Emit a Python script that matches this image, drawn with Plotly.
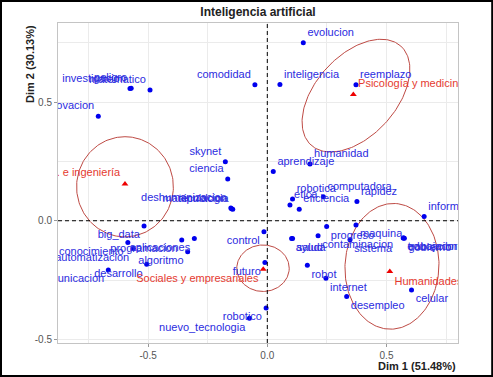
import numpy as np
import plotly.graph_objects as go

# Row (word) points
row_labels = ["investigacion", "peligro", "matematico", "innovacion", "comodidad",
              "inteligencia", "evolucion", "reemplazo", "humanidad", "aprendizaje",
              "computadora", "rapidez", "robotica", "etica", "eficiencia", "informacion",
              "maquina", "progreso", "contaminacion", "sistema", "ayuda", "salud",
              "educacion", "trabajador", "gobierno", "control", "futuro", "robot",
              "internet", "desempleo", "celular", "robotico", "nuevo_tecnologia",
              "skynet", "ciencia", "deshumanizacion", "tecnologia", "manipulacion",
              "big_data", "conocimiento", "automatizacion", "programacion",
              "aplicaciones", "algoritmo", "desarrollo", "comunicacion"]
row_x = [-0.576, -0.571, -0.492, -0.709, -0.052,
         0.053, 0.151, 0.372, 0.179, 0.025,
         0.235, 0.376, 0.106, 0.095, 0.134, 0.658,
         0.372, 0.249, 0.213, 0.347, 0.102, 0.106,
         0.570, 0.572, 0.575, -0.014, -0.010, 0.168,
         0.246, 0.333, 0.605, -0.005, -0.075,
         -0.176, -0.166, -0.153, -0.145, -0.150,
         -0.517, -0.585, -0.562, -0.359,
         -0.306, -0.334, -0.506, -0.667]
row_y = [0.557, 0.558, 0.551, 0.440, 0.573,
         0.574, 0.750, 0.573, 0.239, 0.207,
         0.101, 0.081, 0.092, 0.066, 0.048, 0.018,
         -0.018, -0.024, -0.063, -0.080, -0.075, -0.075,
         -0.073, -0.073, -0.074, -0.046, -0.176, -0.187,
         -0.242, -0.319, -0.292, -0.368, -0.411,
         0.248, 0.176, 0.054, 0.048, 0.051,
         -0.022, -0.092, -0.117, -0.081,
         -0.075, -0.131, -0.183, -0.208]

# Column (group) points
col_labels = ["Psicología y medicina", "Arquit. e ingeniería",
              "Sociales y empresariales", "Humanidades"]
col_x = [0.361, -0.597, -0.017, 0.514]
col_y = [0.532, 0.155, -0.204, -0.214]

# Confidence ellipses for the column groups
ell_cx = [0.372, -0.597, -0.018, 0.523]
ell_cy = [0.527, 0.143, -0.200, -0.192]
ell_a = [0.281, 0.211, 0.110, 0.265]
ell_b = [0.169, 0.203, 0.098, 0.197]
ell_angle = [48, 90, 0, 87]

# Text positions (style)
row_pos = ["top left"] * 5 + ["top right"] * 11 + ["bottom right"] * 9 + \
          ["bottom left", "bottom left", "bottom right", "bottom right", "bottom right",
           "bottom right", "bottom left", "bottom left"] + ["top left"] * 5 + \
          ["bottom left"] * 8
col_pos = ["top right", "top left", "bottom left", "bottom right"]

FONT = "Liberation Sans, Arial, sans-serif"
fig = go.Figure()

t = np.linspace(0, 2 * np.pi, 200)
for cx, cy, a, b, ang in zip(ell_cx, ell_cy, ell_a, ell_b, ell_angle):
    th = np.deg2rad(ang)
    ex = cx + a * np.cos(t) * np.cos(th) - b * np.sin(t) * np.sin(th)
    ey = cy + a * np.cos(t) * np.sin(th) + b * np.sin(t) * np.cos(th)
    fig.add_trace(go.Scatter(x=ex, y=ey, mode="lines",
                             line=dict(color="#BE4A44", width=1), hoverinfo="skip"))

fig.add_trace(go.Scatter(x=row_x, y=row_y, mode="markers+text", text=row_labels,
                         textposition=row_pos,
                         marker=dict(color="#0000EE", size=5),
                         textfont=dict(family=FONT, size=11, color="#2B2BE0")))
fig.add_trace(go.Scatter(x=col_x, y=col_y, mode="markers+text", text=col_labels,
                         textposition=col_pos,
                         marker=dict(color="#EE0000", size=6, symbol="triangle-up"),
                         textfont=dict(family=FONT, size=11, color="#E53A30")))

grid = "#EBEBEB"
fig.update_xaxes(range=[-0.878, 0.800], tickvals=[-0.5, 0, 0.5],
                 ticktext=["-0.5", "0.0", "0.5"], showgrid=True, gridcolor=grid,
                 minor=dict(dtick=0.25, tick0=0, showgrid=True, gridcolor=grid),
                 zeroline=False, showline=True, linecolor="#C4C4C4", mirror=True,
                 ticks="outside", ticklen=3, tickcolor="#999999",
                 tickfont=dict(family=FONT, size=10, color="#555555"))
fig.update_yaxes(range=[-0.515, 0.833], tickvals=[-0.5, 0, 0.5],
                 ticktext=["-0.5", "0.0", "0.5"], showgrid=True, gridcolor=grid,
                 minor=dict(dtick=0.25, tick0=0, showgrid=True, gridcolor=grid),
                 zeroline=False, showline=True, linecolor="#C4C4C4", mirror=True,
                 ticks="outside", ticklen=3, tickcolor="#999999",
                 tickfont=dict(family=FONT, size=10, color="#555555"))

fig.update_layout(
    width=493, height=377, showlegend=False,
    margin=dict(l=58, r=35, t=23, b=34),
    paper_bgcolor="white", plot_bgcolor="white",
    title=dict(text="<b>Inteligencia artificial</b>", x=0.5, xref="paper",
               y=1 - 12 / 377, yref="container", yanchor="middle", xanchor="center",
               font=dict(family=FONT, size=12, color="#222222")),
    shapes=[
        dict(type="line", xref="x", yref="paper", x0=0, x1=0, y0=0, y1=1,
             line=dict(color="black", width=1, dash="4px,3px")),
        dict(type="line", xref="paper", yref="y", x0=0, x1=1, y0=0, y1=0,
             line=dict(color="black", width=1, dash="4px,3px")),
        dict(type="rect", xref="paper", yref="paper", x0=-0.1425, x1=1.0855,
             y0=-0.1035, y1=1.0685, line=dict(color="black", width=2)),
    ],
    annotations=[
        dict(text="<b>Dim 1 (51.48%)</b>", xref="paper", yref="paper", x=1,
             y=-0.072, xanchor="right", yanchor="middle", showarrow=False,
             font=dict(family=FONT, size=11, color="#222222")),
        dict(text="<b>Dim 2 (30.13%)</b>", xref="paper", yref="paper", x=-0.07,
             y=1.0, xanchor="center", yanchor="top", textangle=-90, showarrow=False,
             font=dict(family=FONT, size=11, color="#222222")),
    ],
)

fig.write_html("out.html", config={"displayModeBar": False},
               post_script="document.body.style.margin='0px';document.body.style.overflow='hidden';")
